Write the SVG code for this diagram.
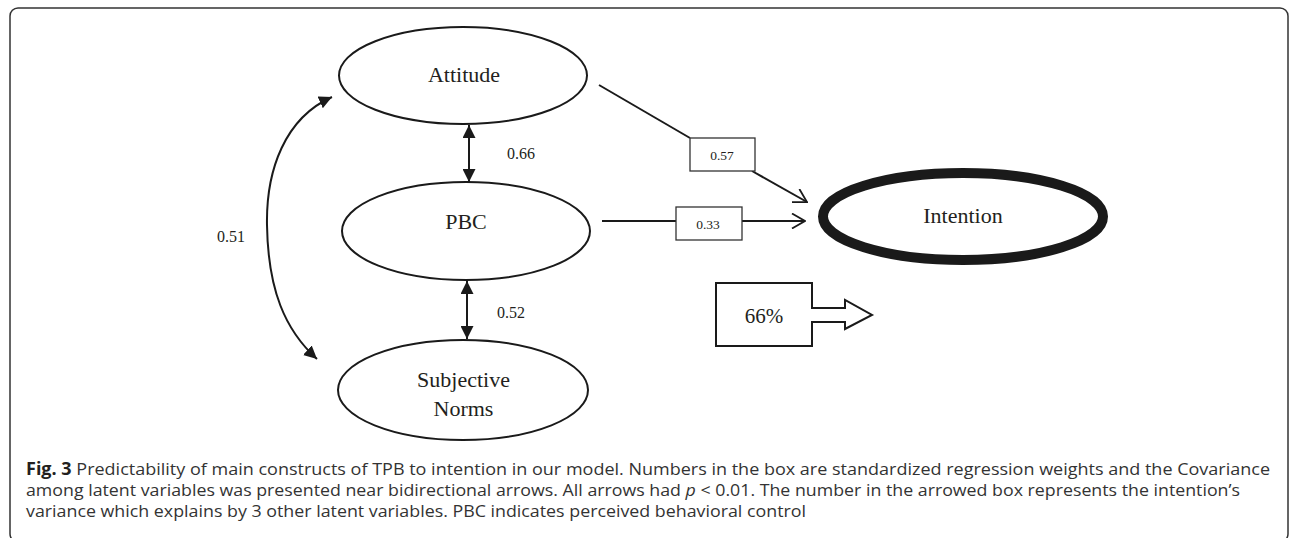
<svg xmlns="http://www.w3.org/2000/svg" width="1290" height="538" viewBox="0 0 1290 538">
<style>
.node{fill:#fff;stroke:#1a1a1a;stroke-width:2}
.lbl{font-family:"Liberation Serif","Times New Roman",serif;fill:#231f20;text-anchor:middle}
.num{font-family:"Liberation Serif","Times New Roman",serif;fill:#231f20;font-size:16px}
.edge{fill:none;stroke:#1a1a1a;stroke-width:2}
.box{fill:#fff;stroke:#333;stroke-width:1.3}
.bnum{font-family:"Liberation Serif","Times New Roman",serif;fill:#231f20;font-size:13.5px;text-anchor:middle}
.cap{font-family:"Open Sans","Noto Sans","Liberation Sans",sans-serif;font-size:17px;fill:#333}
</style>
<defs>
<marker id="solid" viewBox="0 0 13 13" refX="13" refY="6.5" markerWidth="13" markerHeight="13" markerUnits="userSpaceOnUse" orient="auto-start-reverse">
<path d="M0,0 L13,6.5 L0,13 z" fill="#1a1a1a"/>
</marker>
<marker id="open" viewBox="0 0 16 16" refX="15" refY="8" markerWidth="16" markerHeight="16" markerUnits="userSpaceOnUse" orient="auto">
<path d="M2,0.5 L15,8 L2,15.5" fill="none" stroke="#1a1a1a" stroke-width="1.8"/>
</marker>
</defs>
<rect x="10" y="8" width="1278" height="534" rx="8" fill="none" stroke="#333" stroke-width="1.5"/>
<g id="connectors">
<line class="edge" x1="469" y1="125" x2="469" y2="182" marker-start="url(#solid)" marker-end="url(#solid)"/>
<line class="edge" x1="467" y1="281" x2="467" y2="339" marker-start="url(#solid)" marker-end="url(#solid)"/>
<path class="edge" d="M332,97 C285,118 266,170 267,225 C268,290 285,330 317,359" marker-start="url(#solid)" marker-end="url(#solid)"/>
<line class="edge" x1="599" y1="85" x2="690" y2="138"/>
<line class="edge" x1="752" y1="171" x2="807" y2="202" marker-end="url(#open)"/>
<line class="edge" x1="602" y1="221" x2="676" y2="221"/>
<line class="edge" x1="742" y1="221" x2="805" y2="221" marker-end="url(#open)"/>
<rect class="box" x="690" y="138" width="65" height="33"/>
<text class="bnum" x="722" y="159.5">0.57</text>
<rect class="box" x="676" y="207" width="66" height="33"/>
<text class="bnum" x="708" y="229">0.33</text>
<text class="num" x="507" y="159">0.66</text>
<text class="num" x="497" y="318">0.52</text>
<text class="num" x="217" y="242">0.51</text>
</g>
<g id="attitude">
<ellipse class="node" cx="463" cy="75.5" rx="124" ry="48.5"/>
<text class="lbl" x="464" y="82" font-size="22">Attitude</text>
</g>
<g id="pbc">
<ellipse class="node" cx="466" cy="231" rx="124" ry="49"/>
<text class="lbl" x="466" y="229" font-size="22">PBC</text>
</g>
<g id="subjective-norms">
<ellipse class="node" cx="463" cy="390" rx="125" ry="50"/>
<text class="lbl" x="463.5" y="387" font-size="22">Subjective</text>
<text class="lbl" x="463.5" y="416" font-size="22">Norms</text>
</g>
<g id="intention">
<ellipse cx="963" cy="216.5" rx="140" ry="43.5" fill="#fff" stroke="#1a1a1a" stroke-width="10"/>
<text class="lbl" x="963" y="223" font-size="22">Intention</text>
</g>
<g id="variance">
<path d="M716,283 L812,283 L812,308 L845,308 L845,300 L872,315 L845,329 L845,322 L812,322 L812,346 L716,346 Z" fill="#fff" stroke="#1a1a1a" stroke-width="2"/>
<text class="lbl" x="764" y="323" font-size="21">66%</text>
</g>
<g id="caption">
<text class="cap" x="26" y="475" textLength="1244" lengthAdjust="spacingAndGlyphs"><tspan font-weight="bold" fill="#231f20">Fig. 3</tspan> Predictability of main constructs of TPB to intention in our model. Numbers in the box are standardized regression weights and the Covariance</text>
<text class="cap" x="26" y="496" textLength="1214" lengthAdjust="spacingAndGlyphs">among latent variables was presented near bidirectional arrows. All arrows had <tspan font-style="italic">p</tspan> &lt; 0.01. The number in the arrowed box represents the intention’s</text>
<text class="cap" x="26" y="517" textLength="780" lengthAdjust="spacingAndGlyphs">variance which explains by 3 other latent variables. PBC indicates perceived behavioral control</text>
</g>
</svg>
